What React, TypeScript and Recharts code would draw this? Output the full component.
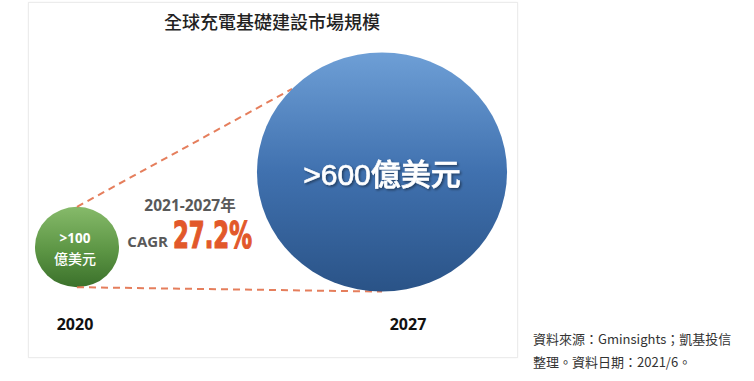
import React from 'react';
import { ScatterChart, Scatter, XAxis, YAxis, ZAxis, Customized } from 'recharts';

const years = [2020, 2027];
const values = [100, 600];
const valueLabels = ['>100', '>600'];
const unitLabel = '億美元';
const yearLabels = ['2020', '2027'];
const titleText = '全球充電基礎建設市場規模';
const periodText = '2021-2027年';
const cagrLabel = 'CAGR';
const cagrValue = '27.2%';
const sourceLines = ['資料來源：Gminsights；凱基投信', '整理。資料日期：2021/6。'];

const data = years.map((y, i) => ({
  year: y,
  value: values[i],
  label: valueLabels[i],
  yearLabel: yearLabels[i],
}));

const CJK = '"Noto Sans CJK TC", "Noto Sans", sans-serif';
const LATIN = '"Open Sans", "Noto Sans CJK TC", sans-serif';
const NUM = '"Liberation Sans", "Noto Sans CJK TC", sans-serif';

const geo: { cx: number; cy: number; rx: number; ry: number }[] = [];

function Bubble(props: any) {
  const { cx, cy, payload } = props;
  const size = props.size ?? Math.PI * Math.pow((props.width || 0) / 2, 2);
  const r = Math.sqrt(Math.max(size, 0) / Math.PI);
  const rx = r * 1.025;
  const ry = r * 0.98;
  const idx = years.indexOf(payload.year);
  geo[idx] = { cx, cy, rx, ry };
  const isBig = idx === years.length - 1;
  const yearDx = isBig ? 26 : -2;

  if (!isBig) {
    return (
      <g>
        <defs>
          <linearGradient id="gGreen" x1="0" y1="0" x2="0" y2="1">
            <stop offset="0%" stopColor="#86ba6a" />
            <stop offset="55%" stopColor="#5c9544" />
            <stop offset="100%" stopColor="#3b712b" />
          </linearGradient>
        </defs>
        <ellipse cx={cx} cy={cy} rx={rx} ry={ry} fill="url(#gGreen)" />
        <text x={cx - 2} y={cy - 4} textAnchor="middle" fill="#fff" fontSize={13.5} fontWeight={700} fontFamily={LATIN}>
          {payload.label}
        </text>
        <text x={cx - 2} y={cy + 17} textAnchor="middle" fill="#fff" fontSize={14} fontWeight={500} fontFamily={CJK}>
          {unitLabel}
        </text>
        <text x={cx + yearDx} y={330} textAnchor="middle" fill="#111" fontSize={16} fontWeight={700} fontFamily={LATIN}>
          {payload.yearLabel}
        </text>
      </g>
    );
  }

  const g0 = geo[0];
  const th = (224 * Math.PI) / 180;
  return (
    <g>
      <defs>
        <linearGradient id="gBlue" x1="0" y1="0" x2="0" y2="1">
          <stop offset="0%" stopColor="#6e9fd6" />
          <stop offset="50%" stopColor="#4071af" />
          <stop offset="100%" stopColor="#2a5387" />
        </linearGradient>
        <filter id="tShadow" x="-10%" y="-30%" width="120%" height="160%">
          <feDropShadow dx="1.5" dy="1.5" stdDeviation="1" floodColor="#000" floodOpacity="0.45" />
        </filter>
      </defs>
      {g0 && (
        <g stroke="#e2704a" strokeWidth={2} strokeDasharray="7 5" fill="none" opacity={0.9}>
          <line x1={g0.cx} y1={g0.cy - g0.ry} x2={cx + rx * Math.cos(th)} y2={cy + ry * Math.sin(th)} />
          <line x1={g0.cx} y1={g0.cy + g0.ry} x2={cx} y2={cy + ry} />
        </g>
      )}
      <ellipse cx={cx} cy={cy} rx={rx} ry={ry} fill="url(#gBlue)" />
      <text
        x={cx}
        y={cy + 13}
        textAnchor="middle"
        fill="#fff"
        fontSize={30}
        fontFamily={NUM}
        stroke="#fff"
        strokeWidth={0.6}
        filter="url(#tShadow)"
      >
        {payload.label}
        <tspan fontFamily={CJK} fontWeight={500}>{unitLabel}</tspan>
      </text>
      <text x={cx + yearDx} y={330} textAnchor="middle" fill="#111" fontSize={16} fontWeight={700} fontFamily={LATIN}>
        {payload.yearLabel}
      </text>
    </g>
  );
}

function Annotations() {
  return (
    <g>
      <text x={272} y={29} textAnchor="middle" fill="#222" fontSize={18} fontWeight={500} fontFamily={CJK}>
        {titleText}
      </text>
      <text x={190} y={211} textAnchor="middle" fill="#595959" fontSize={15.5} fontWeight={700} fontFamily={LATIN}>
        {periodText}
      </text>
      <text x={168} y={247} textAnchor="end" fill="#595959" fontSize={15} fontWeight={700} fontFamily={LATIN}>
        {cagrLabel}
      </text>
      <text
        x={173}
        y={248}
        fill="#e2582a"
        stroke="#e2582a"
        strokeWidth={1.2}
        fontSize={37}
        fontWeight={700}
        fontFamily={'"Liberation Sans Narrow", "DejaVu Sans Condensed", "Liberation Sans", sans-serif'}
        textLength={79}
        lengthAdjust="spacingAndGlyphs"
      >
        {cagrValue}
      </text>
      {sourceLines.map((s, i) => (
        <text key={i} x={533} y={344 + i * 23} fill="#333" fontSize={13} fontFamily={CJK}>
          {s}
        </text>
      ))}
    </g>
  );
}

export default function App() {
  return (
    <div style={{ position: 'fixed', left: 0, top: 0, width: 754, height: 381, background: '#fff' }}>
      <div
        style={{
          position: 'absolute',
          left: 28,
          top: 2,
          width: 488,
          height: 354,
          border: '1px solid #ececec',
          boxShadow: '0 0 2px rgba(0,0,0,0.05)',
          background: '#fff',
        }}
      />
      <div style={{ position: 'absolute', left: 0, top: 0 }}>
        <ScatterChart width={754} height={381} margin={{ top: 172, right: 372, bottom: 134, left: 77 }}>
          <XAxis type="number" dataKey="year" domain={[years[0], years[1]]} hide />
          <YAxis type="number" dataKey="value" domain={[values[0], values[1]]} hide />
          <ZAxis type="number" dataKey="value" domain={[values[0], values[1]]} range={[Math.PI * 41 * 41, Math.PI * 122 * 122]} />
          <Scatter data={data} shape={Bubble} isAnimationActive={false} />
          <Customized component={<Annotations />} />
        </ScatterChart>
      </div>
    </div>
  );
}
